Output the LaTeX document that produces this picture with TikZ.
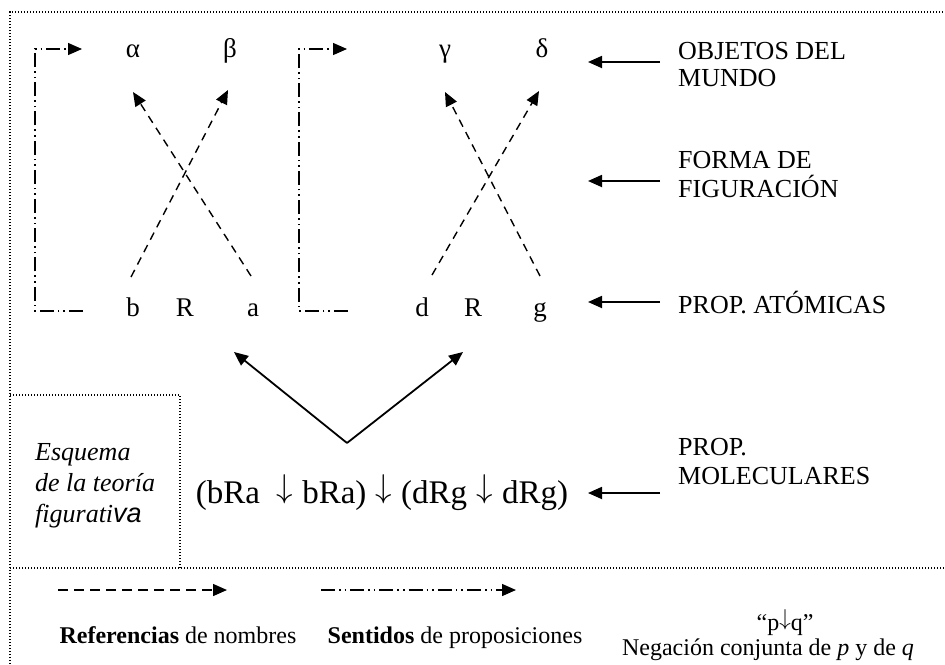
\documentclass[tikz,border=0pt]{standalone}
\usepackage{graphicx}
\usepackage{fontspec}
\setmainfont{Liberation Serif}
\newfontfamily\altsans{Liberation Sans}
\usetikzlibrary{arrows.meta}
\newcommand{\dn}[1]{\raisebox{0.17em}{\scalebox{#1}{\fontsize{10}{12}\selectfont$\downarrow$}}}
\begin{document}
\begin{tikzpicture}[x=1pt,y=-1pt,
  sym/.style={font=\fontsize{27}{30}\selectfont, inner sep=0pt, anchor=base},
  lbl/.style={font=\fontsize{26}{28}\selectfont, inner sep=0pt, anchor=base west},
  leg/.style={font=\fontsize{24}{26}\selectfont, inner sep=0pt, anchor=base},
  esq/.style={font=\fontsize{26}{31}\selectfont\itshape, inner sep=0pt, anchor=base west},
  tipA/.style={-{Triangle[length=14pt,width=12pt]}},
  refline/.style={tipA, line width=1.4pt, dash pattern=on 8pt off 6pt},
  senseline/.style={tipA, line width=1.4pt, dash pattern=on 14pt off 4pt on 1.6pt off 4pt on 1.6pt off 4pt},
  solidarrow/.style={tipA, line width=1.8pt},
  framedot/.style={line width=1.3pt, dash pattern=on 1.3pt off 1.7pt}]
\useasboundingbox (0,0) rectangle (945,664);
\begin{scope}
\clip (0,0) rectangle (945,664);
% frame
\draw[framedot] (10,700) -- (10,12) -- (960,12);
\draw[framedot] (10,568) -- (960,568);
\draw[framedot] (10,395) -- (180,395) -- (180,568);
\end{scope}

% world objects
\node[sym] (alpha) at (133,57) {α};
\node[sym] (beta)  at (230,57) {β};
\node[sym] (gamma) at (445,57) {γ};
\node[sym] (delta) at (542,57) {δ};
% atomic propositions
\node[sym] (b)  at (133,316) {b};
\node[sym] (R1) at (185,316) {R};
\node[sym] (a)  at (253,316) {a};
\node[sym] (d)  at (422,316) {d};
\node[sym] (R2) at (473,316) {R};
\node[sym] (g)  at (540,316) {g};

% reference arrows (names)
\coordinate (bS) at (131,277);  \coordinate (betaT) at (228,90);
\coordinate (aS) at (251,276);  \coordinate (alphaT) at (133,92);
\coordinate (dS) at (432,275);  \coordinate (deltaT) at (539,91);
\coordinate (gS) at (540,276);  \coordinate (gammaT) at (445,92);
\draw[refline] (bS) -- (betaT);
\draw[refline] (aS) -- (alphaT);
\draw[refline] (dS) -- (deltaT);
\draw[refline] (gS) -- (gammaT);

% sense brackets
\coordinate (L1) at (83,311); \coordinate (L2) at (35,311);
\coordinate (L3) at (35,49);  \coordinate (L4) at (82,49);
\draw[senseline] (L1) -- (L2) -- (L3) -- (L4);
\coordinate (M1) at (348,311); \coordinate (M2) at (299,311);
\coordinate (M3) at (299,49);  \coordinate (M4) at (347,49);
\draw[senseline] (M1) -- (M2) -- (M3) -- (M4);

% molecular proposition
\node[font=\fontsize{33}{36}\selectfont, inner sep=0pt, anchor=base] (mol) at (382,503)
  {(bRa~~\dn{3.3}\;bRa)\;\dn{3.3}\;(dRg\;\dn{3.3}\;dRg)};
\coordinate (apex) at (347,443);
\coordinate (tipL) at (234,352);
\coordinate (tipR) at (463,352);
\draw[solidarrow] (apex) -- (tipL);
\draw[solidarrow] (apex) -- (tipR);

% right labels
\node[lbl] (obj1) at (678,59) {OBJETOS DEL};
\node[lbl] (obj2) at (678,86) {MUNDO};
\node[lbl] (for1) at (678,168) {FORMA DE};
\node[lbl] (for2) at (678,197) {FIGURACIÓN};
\node[lbl] (ato)  at (678,313) {PROP. ATÓMICAS};
\node[lbl] (mol1) at (678,455) {PROP.};
\node[lbl] (mol2) at (678,484) {MOLECULARES};
\foreach \y/\n in {62/o,181/f,302/t,493/m}{
  \coordinate (s\n) at (660,\y);
  \coordinate (e\n) at (588,\y);
  \draw[solidarrow] (s\n) -- (e\n);
}

% box text
\node[esq] (esq1) at (35,460) {Esquema};
\node[esq] (esq2) at (35,491) {de la teoría};
\node[esq] (esq3) at (35,522) {figurati{\altsans\fontsize{27}{31}\selectfont va}};

% legend
\coordinate (r1) at (58,590);  \coordinate (r2) at (227,590);
\draw[refline, dash pattern=on 10pt off 6pt] (r1) -- (r2);
\coordinate (s1) at (321,590); \coordinate (s2) at (516,590);
\draw[senseline] (s1) -- (s2);
\node[leg] (legR) at (178,643) {\textbf{Referencias} de nombres};
\node[leg] (legS) at (455,643) {\textbf{Sentidos} de proposiciones};
\node[leg] (legP) at (785,630) {“p\dn{2.3}q”};
\node[leg] (legN) at (768,655) {Negación conjunta de \textit{p} y de \textit{q}};
\end{tikzpicture}
\end{document}
